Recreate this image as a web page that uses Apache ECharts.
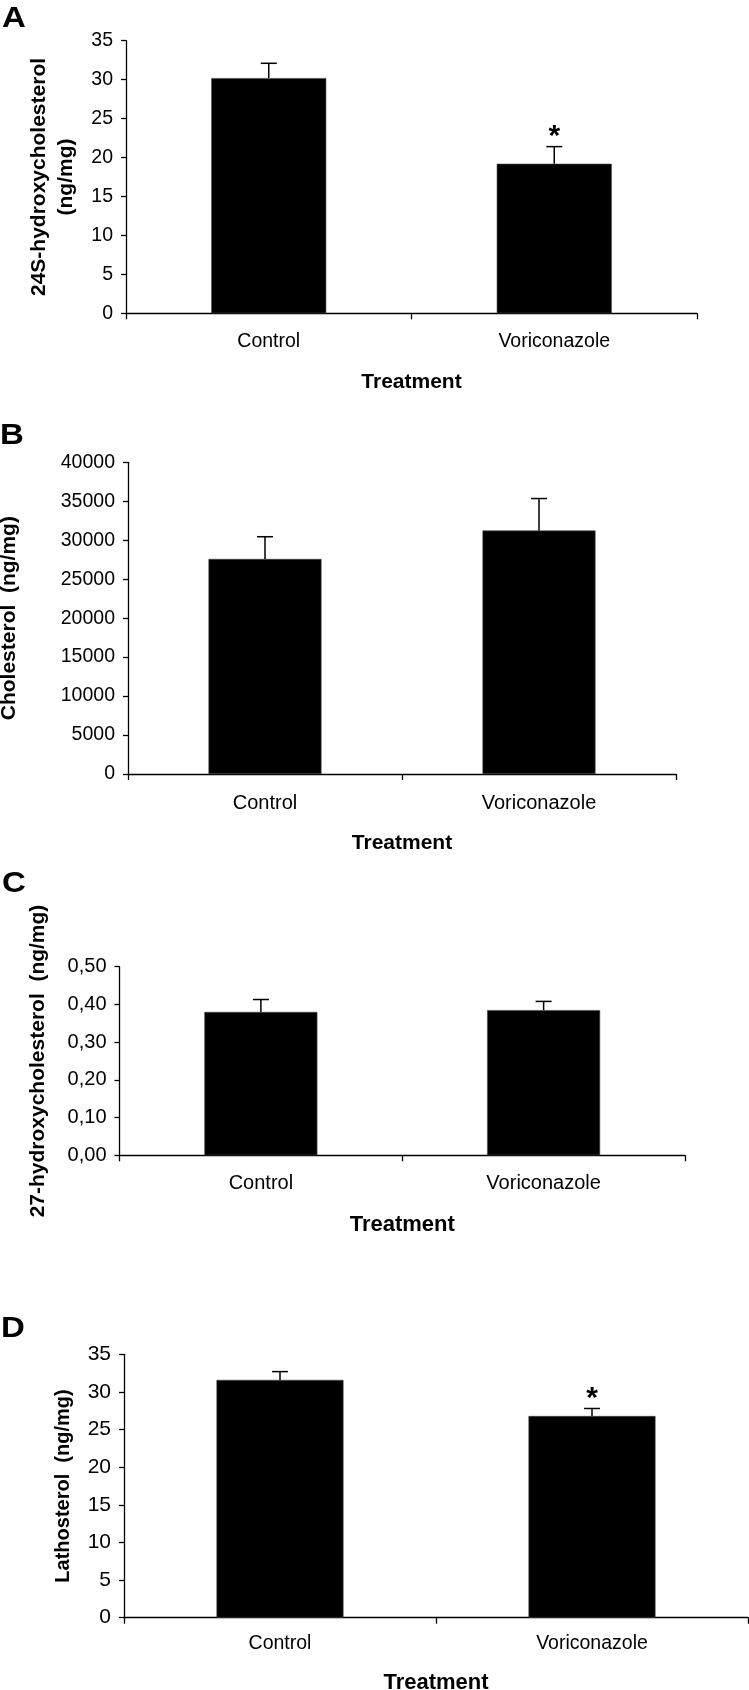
<!DOCTYPE html>
<html>
<head>
<meta charset="utf-8">
<script src="https://cdn.jsdelivr.net/npm/echarts@6/dist/echarts.min.js"></script>
<style>
  html, body { margin: 0; padding: 0; background: #fff; }
  #chart { width: 749px; height: 1690px; }
</style>
</head>
<body>
<div id="chart"></div>
<script>
// ---------------- data ----------------
const categories = ['Control', 'Voriconazole'];

const hydroxy24Mean = [30.2, 19.2];
const hydroxy24Err  = [1.9, 2.2];
const hydroxy24Sig  = [false, true];

const cholesterolMean = [27600, 31250];
const cholesterolErr  = [2850, 4100];
const cholesterolSig  = [false, false];

const hydroxy27Mean = [0.380, 0.385];
const hydroxy27Err  = [0.033, 0.023];
const hydroxy27Sig  = [false, false];

const lathosterolMean = [31.6, 26.8];
const lathosterolErr  = [1.1, 1.0];
const lathosterolSig  = [false, true];

const yMaxA = 35,    yStepA = 5;
const yMaxB = 40000, yStepB = 5000;
const yMaxC = 0.5,   yStepC = 0.1;
const yMaxD = 35,    yStepD = 5;

const panelLetters = ['A', 'B', 'C', 'D'];
const yTitles = [
  '24S-hydroxycholesterol\n(ng/mg)',
  'Cholesterol  (ng/mg)',
  '27-hydroxycholesterol  (ng/mg)',
  'Lathosterol  (ng/mg)'
];
const xTitle = 'Treatment';

// ---------------- layout ----------------
const FONT = '"Liberation Sans", Arial, Helvetica, sans-serif';
const panels = [
  { grid: { left: 126, right: 52, top: 40.7, height: 272.6 }, max: yMaxA, step: yStepA,
    mean: hydroxy24Mean, err: hydroxy24Err, sig: hydroxy24Sig, barW: 115,
    tickFont: 19.5, catFont: 19.5, catMargin: 18, nameFont: 21, nameGap: 58,
    yNameFont: 21, yNameGap: 46, yNameLH: 27, fmt: v => String(v) },
  { grid: { left: 128, right: 73, top: 462.3, height: 311.7 }, max: yMaxB, step: yStepB,
    mean: cholesterolMean, err: cholesterolErr, sig: cholesterolSig, barW: 113,
    tickFont: 19.5, catFont: 20, catMargin: 19, nameFont: 21, nameGap: 59,
    yNameFont: 21, yNameGap: 108, yNameLH: 21, fmt: v => String(v) },
  { grid: { left: 119.5, right: 64, top: 966.7, height: 188.6 }, max: yMaxC, step: yStepC,
    mean: hydroxy27Mean, err: hydroxy27Err, sig: hydroxy27Sig, barW: 113,
    tickFont: 20, catFont: 20, catMargin: 18, nameFont: 22, nameGap: 59,
    yNameFont: 21, yNameGap: 71, yNameLH: 21, fmt: v => v.toFixed(2).replace('.', ',') },
  { grid: { left: 124, right: 1, top: 1354.3, height: 263.4 }, max: yMaxD, step: yStepD,
    mean: lathosterolMean, err: lathosterolErr, sig: lathosterolSig, barW: 127,
    tickFont: 21, catFont: 19.5, catMargin: 16, nameFont: 22, nameGap: 54,
    yNameFont: 20, yNameGap: 51, yNameLH: 20, fmt: v => String(v) }
];

const grids = [], xAxes = [], yAxes = [], series = [];

panels.forEach((p, i) => {
  grids.push(Object.assign({ containLabel: false, outerBoundsMode: 'none' }, p.grid));
  xAxes.push({
    type: 'category', gridIndex: i, data: categories,
    boundaryGap: true,
    axisLine: { show: true, lineStyle: { color: '#000', width: 1.3 } },
    axisTick: { show: true, length: 6, inside: false, alignWithLabel: false,
                lineStyle: { color: '#000', width: 1.3 } },
    axisLabel: { show: true, color: '#000', fontFamily: FONT, fontSize: p.catFont,
                 margin: p.catMargin, interval: 0 },
    splitLine: { show: false },
    name: xTitle, nameLocation: 'middle', nameGap: p.nameGap,
    nameTextStyle: { color: '#000', fontFamily: FONT, fontWeight: 'bold', fontSize: p.nameFont }
  });
  yAxes.push({
    type: 'value', gridIndex: i, min: 0, max: p.max, interval: p.step,
    axisLine: { show: true, lineStyle: { color: '#000', width: 1.3 } },
    axisTick: { show: true, length: 5, inside: false, lineStyle: { color: '#000', width: 1.3 } },
    axisLabel: { show: true, color: '#000', fontFamily: FONT, fontSize: p.tickFont,
                 margin: 13, formatter: p.fmt, showMinLabel: true, showMaxLabel: true },
    splitLine: { show: false },
    name: yTitles[i], nameLocation: 'middle', nameGap: p.yNameGap,
    nameTextStyle: { color: '#000', fontFamily: FONT, fontWeight: 'bold',
                     fontSize: p.yNameFont, lineHeight: p.yNameLH, align: 'center' }
  });
  series.push({
    type: 'bar', xAxisIndex: i, yAxisIndex: i, data: p.mean,
    barWidth: p.barW,
    itemStyle: { color: '#000', borderColor: '#444', borderWidth: 0.6 },
    silent: true, animation: false, z: 2
  });
  series.push({
    type: 'custom', xAxisIndex: i, yAxisIndex: i,
    data: p.mean.map((m, k) => [k, m, p.err[k], p.sig[k] ? 1 : 0]),
    encode: { x: 0, y: 1 },
    silent: true, animation: false, z: 3,
    renderItem: function (params, api) {
      const idx = api.value(0), mean = api.value(1), err = api.value(2), sig = api.value(3);
      const base = api.coord([idx, mean]);
      const top = api.coord([idx, mean + err]);
      const capHalf = 8;
      const children = [
        { type: 'line', shape: { x1: base[0], y1: base[1], x2: top[0], y2: top[1] },
          style: { stroke: '#000', lineWidth: 1.5 } },
        { type: 'line', shape: { x1: top[0] - capHalf, y1: top[1], x2: top[0] + capHalf, y2: top[1] },
          style: { stroke: '#000', lineWidth: 1.5 } }
      ];
      if (sig) {
        children.push({
          type: 'text', x: top[0], y: top[1] - 10,
          style: { text: '*', fill: '#000', font: 'bold 30px ' + FONT,
                   align: 'center', verticalAlign: 'middle' }
        });
      }
      return { type: 'group', children: children };
    }
  });
});

const letterPos = [[2, 19], [0, 436], [2, 884], [1, 1329]];
const graphics = panelLetters.map((t, i) => ({
  type: 'text', x: letterPos[i][0], y: letterPos[i][1], scaleX: 1.1,
  style: { text: t, fill: '#000', font: 'bold 30px ' + FONT, align: 'left', verticalAlign: 'middle' },
  silent: true
}));

const chart = echarts.init(document.getElementById('chart'), null, { renderer: 'canvas' });
chart.setOption({
  backgroundColor: '#fff',
  animation: false,
  grid: grids,
  xAxis: xAxes,
  yAxis: yAxes,
  series: series,
  graphic: graphics,
  tooltip: { show: false }
});
</script>
</body>
</html>
